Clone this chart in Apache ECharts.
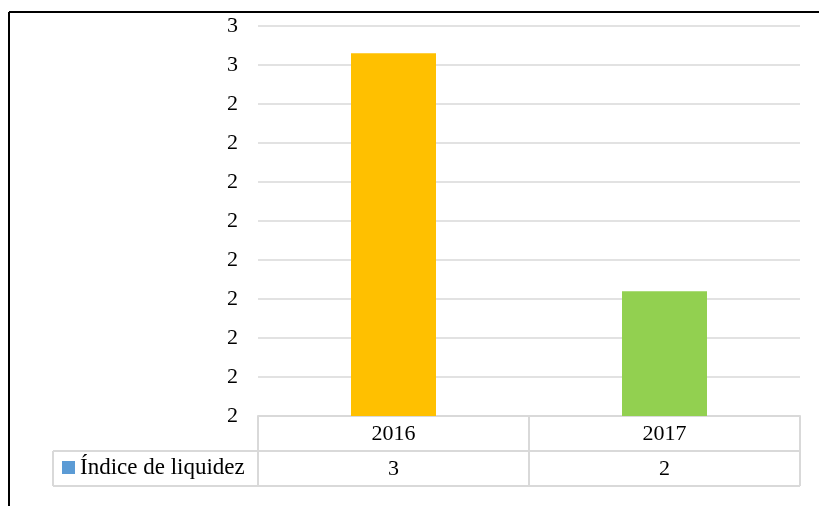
<!DOCTYPE html>
<html lang="es">
<head>
    <meta charset="UTF-8">
    <title>Índice de liquidez</title>
    <script src="https://cdn.jsdelivr.net/npm/echarts@6/dist/echarts.min.js"></script>
    <style>
        html, body { margin: 0; padding: 0; background: #fff; }
        #chart { width: 819px; height: 506px; }
    </style>
</head>
<body>
<div id="chart"></div>
<script>
    // data
    var years = ['2016', '2017'];
    var liquidez = [2.53, 1.92];
    var barColors = ['#FFC000', '#92D050'];
    var serieName = 'Índice de liquidez';

    var font = "'Liberation Serif', 'Times New Roman', serif";
    var gridColor = '#D9D9D9';

    var chart = echarts.init(document.getElementById('chart'));

    // table lines below the plot + outer frame
    function line(x1, y1, x2, y2, color, w) {
        return {
            type: 'line',
            shape: { x1: x1, y1: y1, x2: x2, y2: y2 },
            style: { stroke: color, lineWidth: w },
            silent: true
        };
    }

    chart.setOption({
        animation: false,
        grid: { left: 258, right: 19, top: 26, bottom: 90 },
        legend: {
            data: [serieName],
            left: 62,
            top: 456,
            padding: 0,
            icon: 'rect',
            itemWidth: 13,
            itemHeight: 13,
            textStyle: { fontFamily: font, fontSize: 23, color: '#000' }
        },
        xAxis: [
            {
                type: 'category',
                data: years,
                axisLine: { lineStyle: { color: gridColor, width: 2 } },
                axisTick: { show: false },
                axisLabel: {
                    margin: 18,
                    verticalAlign: 'middle',
                    fontFamily: font,
                    fontSize: 22,
                    color: '#000'
                }
            },
            {
                type: 'category',
                data: years,
                position: 'bottom',
                offset: 35,
                axisLine: { show: false },
                axisTick: { show: false },
                axisLabel: {
                    margin: 18,
                    verticalAlign: 'middle',
                    fontFamily: font,
                    fontSize: 22,
                    color: '#000',
                    formatter: function (v, i) { return String(Math.round(liquidez[i])); }
                }
            }
        ],
        yAxis: {
            type: 'value',
            min: 1.6,
            max: 2.6,
            interval: 0.1,
            axisLine: { show: false },
            axisTick: { show: false },
            splitLine: { lineStyle: { color: gridColor, width: 1.5 } },
            axisLabel: {
                margin: 20,
                fontFamily: font,
                fontSize: 22,
                color: '#000',
                formatter: function (v) { return String(Math.round(v)); }
            }
        },
        series: [{
            name: serieName,
            type: 'bar',
            barWidth: 85,
            itemStyle: { color: '#5B9BD5' },
            data: liquidez.map(function (v, i) {
                return { value: v, itemStyle: { color: barColors[i] } };
            })
        }],
        graphic: [
            line(258, 451, 800, 451, gridColor, 2),
            line(53, 451, 258, 451, gridColor, 2),
            line(53, 486, 800, 486, gridColor, 2),
            line(53, 451, 53, 486, gridColor, 2),
            line(258, 416, 258, 486, gridColor, 2),
            line(529, 416, 529, 486, gridColor, 2),
            line(800, 416, 800, 486, gridColor, 2),
            line(9, 12, 819, 12, '#000', 2),
            line(9, 12, 9, 506, '#000', 2)
        ]
    });
</script>
</body>
</html>
